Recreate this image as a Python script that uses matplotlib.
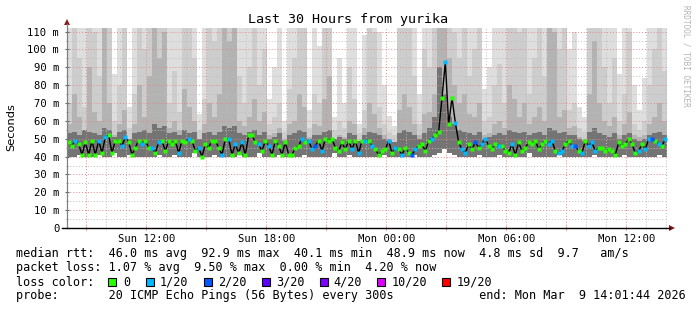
import numpy as np
import matplotlib.pyplot as plt
from matplotlib.patches import Rectangle, Polygon
from matplotlib.lines import Line2D
from matplotlib.ticker import FixedLocator, MultipleLocator, FuncFormatter

# time axis: hours since Sun 00:00, 30 hours ending Mon 14:01:44
t_start = 8 + 1/60 + 44/3600
hours = 30

# median rtt (ms), one value per 10 minutes
median = [
    48, 46, 49, 47, 41, 48, 41, 49, 41, 49, 42, 51, 52, 42, 49, 49, 46, 51, 48, 41,
    45, 49, 47, 49, 45, 45, 42, 48, 49, 43, 49, 47, 49, 42, 49, 48, 50, 49, 43, 45,
    40, 47, 45, 49, 49, 45, 41, 50, 50, 41, 47, 42, 48, 41, 52, 52, 48, 47, 43, 49,
    46, 41, 49, 46, 41, 48, 41, 41, 45, 46, 50, 48, 49, 44, 46, 49, 43, 50, 49, 50,
    45, 43, 48, 44, 49, 44, 49, 42, 49, 49, 49, 46, 44, 41, 43, 44, 49, 42, 45, 44,
    41, 45, 42, 41, 44, 46, 47, 43, 49, 50, 52, 54, 73, 93, 58, 73, 59, 48, 44, 42,
    47, 44, 48, 45, 47, 50, 46, 44, 47, 46, 46, 43, 42, 47, 41, 48, 43, 45, 48, 47,
    49, 44, 47, 49, 47, 49, 43, 42, 43, 47, 49, 46, 46, 43, 42, 49, 46, 48, 43, 45,
    45, 43, 44, 43, 41, 48, 46, 47, 50, 47, 42, 43, 47, 44, 50, 50, 49, 47, 46, 50,
]
# lost pings out of 20
loss = [
    0, 0, 1, 0, 0, 0, 0, 0, 0, 1, 0, 1, 0, 0, 0, 0, 1, 1, 0, 0,
    0, 0, 1, 0, 0, 1, 0, 1, 0, 0, 0, 0, 0, 1, 0, 0, 1, 0, 0, 1,
    0, 0, 0, 0, 0, 0, 1, 0, 1, 0, 1, 0, 1, 0, 0, 0, 0, 1, 0, 0,
    1, 0, 0, 0, 0, 0, 0, 0, 0, 0, 1, 0, 1, 1, 2, 0, 1, 0, 0, 0,
    0, 0, 0, 0, 0, 1, 0, 1, 0, 1, 0, 1, 0, 0, 0, 0, 1, 0, 1, 0,
    1, 0, 0, 2, 1, 0, 0, 0, 0, 1, 0, 0, 0, 1, 0, 0, 1, 0, 1, 1,
    0, 0, 2, 0, 1, 1, 0, 0, 0, 1, 0, 0, 0, 1, 0, 0, 0, 0, 0, 0,
    0, 0, 0, 0, 1, 1, 0, 1, 1, 0, 0, 1, 2, 0, 1, 0, 1, 1, 1, 0,
    0, 0, 0, 0, 0, 0, 0, 0, 0, 0, 0, 1, 0, 1, 1, 2, 0, 1, 0, 1,
]

# smoke, one column per 15 minutes (ms)
smoke_max = [
    120, 120, 120, 120, 120, 120, 120, 120, 120, 86, 120, 120, 68, 120, 120, 120, 120, 120, 120, 120,
    120, 120, 120, 120, 120, 120, 64, 120, 120, 120, 120, 120, 120, 120, 120, 120, 120, 120, 120, 120,
    72, 90, 120, 60, 120, 120, 120, 120, 66, 120, 102, 120, 120, 62, 95, 70, 120, 120, 58, 108,
    120, 120, 110, 80, 63, 57, 120, 120, 120, 120, 75, 120, 120, 120, 120, 120, 120, 120, 120, 120,
    120, 120, 120, 78, 90, 120, 120, 120, 120, 120, 120, 120, 120, 120, 120, 120, 120, 120, 120, 120,
    100, 110, 68, 62, 120, 120, 120, 120, 120, 120, 86, 120, 120, 80, 66, 84, 120, 120, 120, 120,
]
smoke_p2 = [
    70, 120, 95, 68, 120, 110, 85, 120, 120, 60, 80, 120, 56, 75, 120, 100, 120, 120, 120, 120,
    70, 88, 65, 120, 120, 95, 55, 72, 120, 105, 120, 120, 120, 120, 85, 70, 90, 120, 80, 100,
    58, 62, 70, 54, 78, 95, 120, 120, 56, 75, 70, 120, 120, 55, 60, 56, 90, 72, 53, 66,
    120, 110, 68, 58, 54, 52, 120, 120, 120, 85, 58, 100, 90, 120, 120, 120, 120, 110, 95, 120,
    85, 100, 120, 60, 62, 80, 92, 70, 120, 120, 110, 120, 75, 95, 120, 85, 120, 120, 100, 120,
    66, 70, 56, 54, 120, 120, 120, 90, 70, 95, 60, 75, 110, 58, 55, 60, 80, 100, 120, 88,
]
smoke_p3 = [
    58, 75, 62, 55, 90, 65, 60, 120, 70, 52, 58, 66, 50, 58, 80, 62, 85, 120, 95, 110,
    56, 60, 55, 78, 68, 60, 50, 58, 70, 62, 75, 120, 105, 120, 60, 57, 62, 72, 60, 65,
    52, 53, 56, 50, 58, 60, 75, 68, 51, 58, 57, 72, 85, 50, 52, 51, 60, 58, 49, 56,
    70, 64, 56, 52, 50, 48, 66, 75, 68, 58, 52, 64, 65, 75, 120, 120, 95, 80, 70, 75,
    64, 62, 70, 52, 53, 58, 60, 56, 80, 72, 62, 70, 58, 62, 68, 60, 120, 110, 62, 66,
    56, 57, 51, 50, 75, 105, 70, 60, 57, 62, 52, 58, 65, 52, 51, 52, 58, 62, 70, 60,
]
smoke_core = [
    53, 54, 52, 55, 54, 53, 52, 56, 55, 51, 54, 55, 50, 53, 54, 55, 53, 58, 56, 57,
    53, 54, 52, 55, 53, 54, 50, 53, 54, 52, 54, 57, 56, 57, 53, 52, 54, 55, 52, 54,
    50, 51, 53, 49, 52, 53, 55, 54, 50, 52, 52, 54, 55, 50, 51, 50, 53, 52, 49, 52,
    54, 53, 52, 50, 49, 48, 53, 55, 54, 52, 50, 53, 56, 62, 90, 75, 62, 58, 55, 54,
    53, 52, 54, 50, 51, 52, 53, 52, 55, 54, 53, 54, 52, 53, 54, 52, 56, 55, 53, 54,
    52, 52, 50, 49, 54, 56, 53, 52, 51, 53, 50, 52, 53, 50, 49, 50, 52, 53, 54, 52,
]
smoke_min = [
    40, 40, 41, 40, 40, 40, 41, 40, 40, 42, 40, 40, 41, 40, 40, 40, 40, 40, 41, 40,
    40, 41, 40, 40, 40, 42, 40, 40, 40, 41, 40, 40, 40, 40, 41, 40, 40, 40, 42, 40,
    40, 40, 41, 40, 40, 40, 40, 41, 40, 40, 40, 40, 40, 42, 40, 40, 41, 40, 40, 40,
    40, 40, 40, 41, 40, 40, 40, 40, 40, 41, 40, 40, 40, 41, 42, 44, 42, 41, 40, 40,
    40, 40, 41, 40, 40, 40, 41, 40, 40, 40, 40, 40, 42, 40, 40, 40, 40, 40, 41, 40,
    40, 40, 40, 40, 40, 41, 40, 40, 40, 40, 40, 41, 40, 40, 40, 40, 40, 40, 41, 40,
]

loss_levels = [0, 1, 2, 3, 4, 10, 19]
loss_labels = ['0', '1/20', '2/20', '3/20', '4/20', '10/20', '19/20']
loss_colors = ['#26ff00', '#00b8ff', '#0059ff', '#5e00ff', '#7e00ff', '#dd00ff', '#ff0000']

mono = 'DejaVu Sans Mono'
W, H = 697, 310
fig = plt.figure(figsize=(W / 100, H / 100), dpi=100)
ax = fig.add_axes([67 / W, 1 - 228 / H, 600 / W, 200 / H])

# smoke
ncol = len(smoke_max)
cw = hours / ncol
xs = t_start + np.arange(ncol) * cw
lo = np.array(smoke_min, float)
for top, col in [(smoke_max, '#dedede'), (smoke_p2, '#cdcdcd'),
                 (smoke_p3, '#b3b3b3'), (smoke_core, '#747474')]:
    top = np.array(top, float)
    ax.bar(xs, top - lo, bottom=lo, width=cw, align='edge', color=col,
           linewidth=0, antialiased=False, zorder=1)

# median line with loss colored points
med = np.array(median, float)
ls = np.array(loss)
tm = t_start + (np.arange(len(med)) + 0.5) * hours / len(med)
ax.plot(tm, med, color='#000000', lw=1.0, zorder=3)
for lv, c in zip(loss_levels, loss_colors):
    m = ls == lv
    if m.any():
        ax.plot(tm[m], med[m], 's', ms=2.3, color=c, mec='none', zorder=4)

ax.set_xlim(t_start, t_start + hours)
ax.set_ylim(0, 112)

# grid / ticks
ax.xaxis.set_major_locator(FixedLocator(np.arange(9, 39, 3)))
ax.xaxis.set_minor_locator(MultipleLocator(1))
xlabels = {12: 'Sun 12:00', 18: 'Sun 18:00', 24: 'Mon 00:00', 30: 'Mon 06:00', 36: 'Mon 12:00'}
ax.xaxis.set_major_formatter(FuncFormatter(lambda v, p: xlabels.get(int(round(v)), '')))
ax.yaxis.set_major_locator(MultipleLocator(10))
ax.yaxis.set_minor_locator(MultipleLocator(5))
ax.yaxis.set_major_formatter(FuncFormatter(lambda v, p: '0' if v == 0 else '%d m' % v))

ax.grid(which='major', color='#e08a8a', ls=(0, (1, 2)), lw=0.7)
ax.grid(which='minor', color='#bdbdbd', ls=(0, (1, 2)), lw=0.7)
ax.set_axisbelow(False)

ax.tick_params(axis='x', which='major', length=3, direction='inout', color='#e08a8a', pad=3,
               labelsize=7.6)
ax.tick_params(axis='x', which='minor', length=2, direction='inout', color='#bdbdbd')
ax.tick_params(axis='y', which='major', length=3, direction='inout', color='#606060', pad=4,
               labelsize=7.6)
ax.tick_params(axis='y', which='minor', length=2, direction='inout', color='#909090')
for lab in ax.get_xticklabels() + ax.get_yticklabels():
    lab.set_family(mono)

for s in ['top', 'right', 'bottom', 'left']:
    ax.spines[s].set_visible(False)

# axis lines and arrows
fx = lambda x: x / W
fy = lambda y: 1 - y / H
fig.add_artist(Line2D([fx(67), fx(67)], [fy(228), fy(24)], color='#808080', lw=0.9))
fig.add_artist(Line2D([fx(62), fx(670)], [fy(228), fy(228)], color='#000000', lw=1.0))
fig.add_artist(Polygon([[fx(64), fy(25)], [fx(70), fy(25)], [fx(67), fy(19)]],
                       closed=True, color='#8b1a1a', lw=0))
fig.add_artist(Polygon([[fx(669), fy(225)], [fx(669), fy(231)], [fx(675), fy(228)]],
                       closed=True, color='#8b1a1a', lw=0))

# titles
fig.text(fx(348), fy(19), 'Last 30 Hours from yurika', ha='center', va='center',
         family=mono, fontsize=9.6)
fig.text(fx(11), fy(127), 'Seconds', rotation=90, ha='center', va='center', fontsize=8.2)
fig.text(fx(686), fy(5), 'RRDTOOL / TOBI OETIKER', rotation=270, ha='center', va='top',
         family=mono, fontsize=5.6, color='#b4b4b4')

# legend
rows = [
    (254, 'median rtt:  46.0 ms avg  92.9 ms max  40.1 ms min  48.9 ms now  4.8 ms sd  9.7   am/s'),
    (268, 'packet loss: 1.07 % avg  9.50 % max  0.00 % min  4.20 % now'),
    (282, 'loss color:'),
    (296, 'probe:       20 ICMP Echo Pings (56 Bytes) every 300s            end: Mon Mar  9 14:01:44 2026'),
]
for y, txt in rows:
    fig.text(fx(16), fy(y), txt, ha='left', va='center', family=mono, fontsize=8.5)

box_x = [108, 146, 204, 262, 320, 377, 442]
lab_x = [123, 160, 218, 276, 333, 392, 457]
for bx, lx, c, t in zip(box_x, lab_x, loss_colors, loss_labels):
    fig.add_artist(Rectangle((fx(bx), fy(286)), 8 / W, 8 / H, facecolor=c,
                             edgecolor='black', lw=0.8))
    fig.text(fx(lx), fy(282), t, ha='left', va='center', family=mono, fontsize=8.5)

fig.savefig('out.png', dpi=100)
